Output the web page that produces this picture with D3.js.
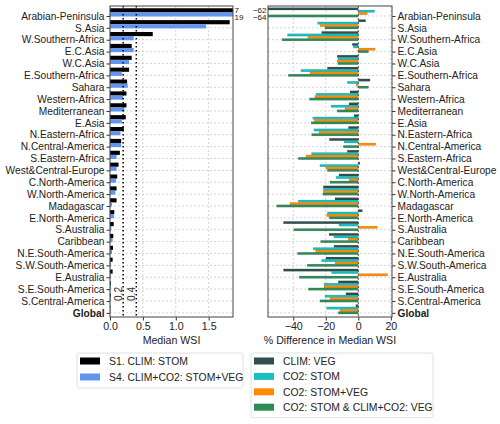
<!DOCTYPE html>
<html>
<head>
<meta charset="utf-8">
<script src="https://cdn.jsdelivr.net/npm/d3@7"></script>
<style>
body { margin: 0; background: #fff; }
svg { font-family: "Liberation Sans", Arial, sans-serif; }
.grid line { stroke: #c8c8c8; stroke-dasharray: 2,2; stroke-width: 0.8; }
.tick text { fill: #222; }
</style>
</head>
<body>
<div id="plot"></div>
<script>

var regions = ["Arabian-Peninsula", "S.Asia", "W.Southern-Africa", "E.C.Asia", "W.C.Asia",
  "E.Southern-Africa", "Sahara", "Western-Africa", "Mediterranean", "E.Asia",
  "N.Eastern-Africa", "N.Central-America", "S.Eastern-Africa", "West&Central-Europe",
  "C.North-America", "W.North-America", "Madagascar", "E.North-America", "S.Australia",
  "Caribbean", "N.E.South-America", "S.W.South-America", "E.Australia",
  "S.E.South-America", "S.Central-America", "Global"];

// median WSI
var s1Clim = [7, 1.82, 0.65, 0.33, 0.33, 0.29, 0.26, 0.25, 0.25, 0.24, 0.21, 0.17, 0.15,
  0.13, 0.11, 0.10, 0.10, 0.065, 0.056, 0.05, 0.045, 0.04, 0.04, 0.012, 0.01, 0.005];
var s4All = [19, 1.46, 0.36, 0.36, 0.29, 0.18, 0.27, 0.20, 0.22, 0.18, 0.16, 0.17, 0.10,
  0.10, 0.09, 0.08, 0.03, 0.06, 0.02, 0.04, 0.03, 0.015, 0.01, 0.01, 0.01, 0.004];

// % difference in median WSI
var climVeg = [-62, 4.5, -22.5, -3.7, -13, -19, 7.2, -5.1, -5.7, -2.6, -6.1, -17.8, -6.8,
  1, -11.9, -21.5, -14.3, 2.5, -46, -18, -15, -19.9, -46, -12.3, -7.6, -1.5];
var co2Stom = [10, -25, -43.5, -3, -12.5, -35.3, -6.8, -26, -16.8, -28, -27.3, -8.8, -28.7,
  -23.6, -13.7, -21.5, -36.9, -19, -11.9, -15, -27.7, -22.5, -16.4, -21.1, -20.5, -19.5];
var co2StomVeg = [5.5, -23.5, -31, 10.3, -13, -29.7, -1.4, -26.7, -8.2, -27, -24.2, 10.7, -32.2,
  -19.9, -5.7, -21.5, -42, -19.5, 11.7, -6.2, -26.2, -14.3, 18, -21.1, -17.4, -11.3];
var co2All = [-64, -20.5, -46.8, 6.2, -12.5, -43, 6.2, -30, -13, -29, -28.7, -9.2, -36.9,
  -19, -17.4, -21.8, -50.2, -17.8, -39.6, -23.1, -37.3, -31.4, -36.3, -30.7, -23.6, -12.3];

var leftTicks = [0, 0.5, 1.0, 1.5];
var rightTicks = [-40, -20, 0, 20];
var thresholds = [0.2, 0.4];

var leftSeries = [
  {name: "S1. CLIM: STOM", values: s1Clim, color: "#000000", off: -0.475},
  {name: "S4. CLIM+CO2: STOM+VEG", values: s4All, color: "#6495ED", off: -0.13}
];
var rightSeries = [
  {name: "CLIM: VEG", values: climVeg, color: "#2F4F4F", off: -0.6},
  {name: "CO2: STOM", values: co2Stom, color: "#17BFBF", off: -0.4},
  {name: "CO2: STOM+VEG", values: co2StomVeg, color: "#FF8C00", off: -0.2},
  {name: "CO2: STOM & CLIM+CO2: VEG", values: co2All, color: "#2E8B57", off: 0}
];

var W = 500, H = 424;
var plotTop = 6, plotBottom = 317;
var fs = 10.2;

var svg = d3.select("#plot").append("svg")
  .attr("width", W).attr("height", H);

var y = d3.scaleLinear().domain([-0.84, 25.35]).range([plotTop, plotBottom]);
var step = y(1) - y(0);

var xL = d3.scaleLinear().domain([0, 1.87]).range([110, 233]);
var xR = d3.scaleLinear().domain([-55.5, 20.7]).range([268, 392]);

function panel(x, ticks, side) {
  var x0 = x.range()[0], x1 = x.range()[1];
  var g = svg.append("g");
  // grid
  var grid = g.append("g").attr("class", "grid");
  grid.selectAll(".gx").data(ticks).enter().append("line")
    .attr("x1", function(d){ return x(d); }).attr("x2", function(d){ return x(d); })
    .attr("y1", plotTop).attr("y2", plotBottom);
  grid.selectAll(".gy").data(regions).enter().append("line")
    .attr("x1", x0).attr("x2", x1)
    .attr("y1", function(d, i){ return y(i); }).attr("y2", function(d, i){ return y(i); });

  var clipId = "clip" + side;
  svg.append("clipPath").attr("id", clipId).append("rect")
    .attr("x", x0).attr("y", plotTop).attr("width", x1 - x0).attr("height", plotBottom - plotTop);
  var bars = svg.append("g").attr("clip-path", "url(#" + clipId + ")");

  var xAxis = d3.axisBottom(x).tickValues(ticks).tickSize(3.5).tickPadding(2)
    .tickFormat(side === "L" ? d3.format(".1f") : function(d){ return d3.format("d")(d).replace("-", "\u2212"); });
  var ax = svg.append("g").attr("transform", "translate(0," + plotBottom + ")").call(xAxis);
  ax.select(".domain").remove();
  ax.selectAll("line").attr("stroke", "#333");
  ax.selectAll("text").attr("font-size", fs + 0.4);

  var yScale = d3.scaleOrdinal().domain(regions).range(regions.map(function(d, i){ return y(i); }));
  var yAxis = (side === "L" ? d3.axisLeft(yScale) : d3.axisRight(yScale)).tickSize(3.5).tickPadding(2);
  var ay = svg.append("g").attr("transform", "translate(" + (side === "L" ? x0 : x1) + ",0)").call(yAxis);
  ay.select(".domain").remove();
  ay.selectAll("line").attr("stroke", "#333");
  ay.selectAll("text").attr("font-size", fs)
    .attr("font-weight", function(d){ return d === "Global" ? "bold" : null; });

  return bars;
}

var barsL = panel(xL, leftTicks, "L");
var barsR = panel(xR, rightTicks, "R");

leftSeries.forEach(function(s) {
  barsL.selectAll(null).data(s.values).enter().append("rect")
    .attr("x", xL(0))
    .attr("width", function(d){ return Math.max(0, xL(d) - xL(0)); })
    .attr("y", function(d, i){ return y(i + s.off) - step * 0.175; })
    .attr("height", step * 0.35)
    .attr("fill", s.color);
});

// threshold lines
svg.selectAll(".thr").data(thresholds).enter().append("line")
  .attr("x1", function(d){ return xL(d); }).attr("x2", function(d){ return xL(d); })
  .attr("y1", plotTop).attr("y2", plotBottom)
  .attr("stroke", "#000").attr("stroke-width", 1.5).attr("stroke-dasharray", "1.5,2.5");
svg.selectAll(".thrlab").data(thresholds).enter().append("text")
  .attr("transform", function(d){ return "translate(" + (xL(d) - 1.5) + ",294) rotate(-90)"; })
  .attr("text-anchor", "middle").attr("font-size", fs).attr("fill", "#333")
  .text(function(d){ return d3.format(".1f")(d); });

rightSeries.forEach(function(s) {
  barsR.selectAll(null).data(s.values).enter().append("rect")
    .attr("x", function(d){ return xR(Math.min(0, d)); })
    .attr("width", function(d){ return Math.abs(xR(d) - xR(0)); })
    .attr("y", function(d, i){ return y(i + s.off) - step * 0.1; })
    .attr("height", step * 0.2)
    .attr("fill", s.color)
    .attr("stroke", "rgba(0,0,0,0.18)").attr("stroke-width", 0.5);
});

// zero line
svg.append("line")
  .attr("x1", xR(0)).attr("x2", xR(0)).attr("y1", plotTop).attr("y2", plotBottom)
  .attr("stroke", "#444").attr("stroke-width", 0.8).attr("stroke-dasharray", "2,2");

// clipped value labels
var annoFs = 8;
svg.append("text").attr("x", 234.5).attr("y", 12.7)
  .attr("font-size", annoFs).attr("fill", "#222").text(d3.format("d")(s1Clim[0]));
svg.append("text").attr("x", 234.5).attr("y", 19.6)
  .attr("font-size", annoFs).attr("fill", "#222").text(d3.format("d")(s4All[0]));
svg.append("text").attr("x", 266.5).attr("y", 12.5)
  .attr("text-anchor", "end").attr("font-size", annoFs).attr("fill", "#222").text(d3.format("d")(climVeg[0]));
svg.append("text").attr("x", 266.5).attr("y", 19.5)
  .attr("text-anchor", "end").attr("font-size", annoFs).attr("fill", "#222").text(d3.format("d")(co2All[0]));

// frames
[xL, xR].forEach(function(x) {
  svg.append("rect")
    .attr("x", x.range()[0]).attr("y", plotTop)
    .attr("width", x.range()[1] - x.range()[0]).attr("height", plotBottom - plotTop)
    .attr("fill", "none").attr("stroke", "#444").attr("stroke-width", 1);
});

// axis titles
svg.append("text").attr("x", (xL.range()[0] + xL.range()[1]) / 2).attr("y", 344)
  .attr("text-anchor", "middle").attr("font-size", fs + 0.4).attr("fill", "#222").text("Median WSI");
svg.append("text").attr("x", (xR.range()[0] + xR.range()[1]) / 2).attr("y", 344)
  .attr("text-anchor", "middle").attr("font-size", fs + 0.4).attr("fill", "#222").text("% Difference in Median WSI");

// legends
function legend(items, x, yTop, w, gap) {
  var g = svg.append("g");
  g.append("rect").attr("x", x).attr("y", yTop)
    .attr("width", w).attr("height", items.length * gap + 3)
    .attr("rx", 2.5).attr("fill", "#fff").attr("stroke", "#d8d8d8").attr("stroke-width", 0.8);
  var row = g.selectAll(".lg").data(items).enter().append("g")
    .attr("transform", function(d, i){ return "translate(" + (x + 3) + "," + (yTop + 8 + i * gap) + ")"; });
  row.append("rect").attr("x", 0).attr("y", -3.5).attr("width", 20).attr("height", 7)
    .attr("fill", function(d){ return d.color; });
  row.append("text").attr("x", 29).attr("y", 4).attr("font-size", fs + 0.2).attr("fill", "#222")
    .text(function(d){ return d.name; });
}
legend(leftSeries, 77, 353, 166, 16);
legend(rightSeries, 251, 353, 182, 15.4);

</script>
</body>
</html>
